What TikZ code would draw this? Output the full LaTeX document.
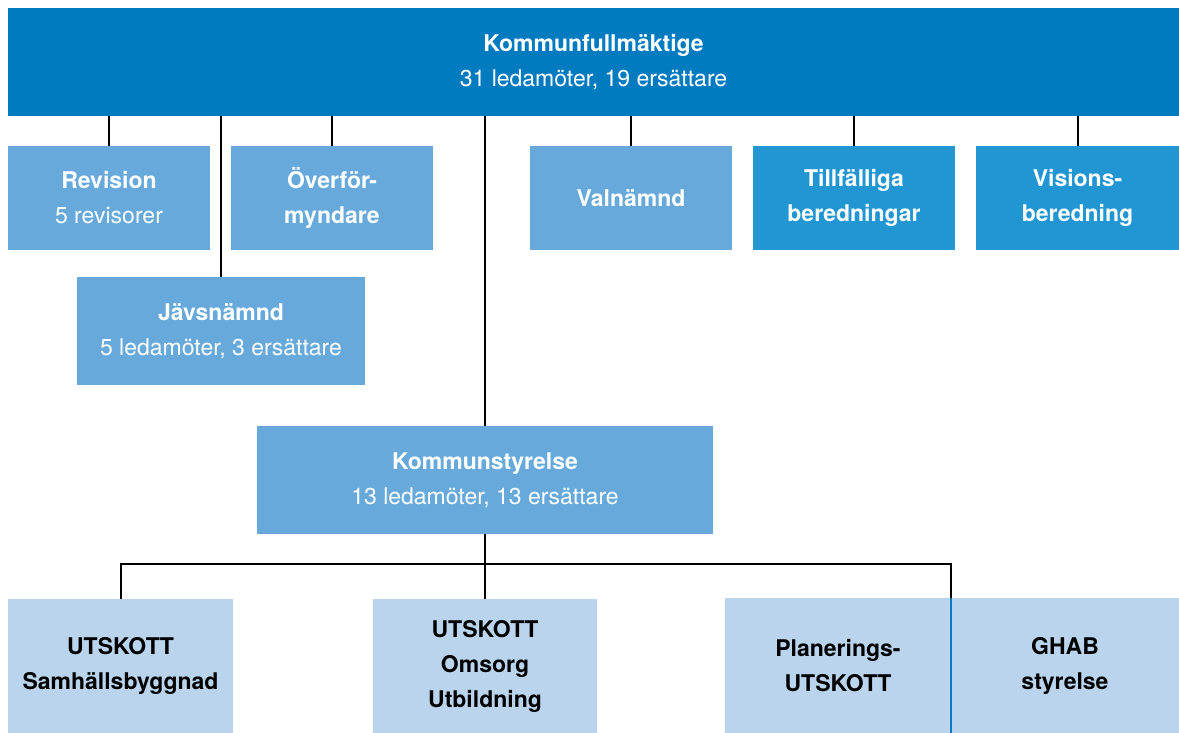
\documentclass[tikz,border=0pt]{standalone}
\usepackage{fontspec}
\setmainfont{TeX Gyre Heros}
\definecolor{kfblue}{RGB}{0,123,191}
\definecolor{midblue}{RGB}{102,169,218}
\definecolor{brblue}{RGB}{33,150,210}
\definecolor{paleblue}{RGB}{185,212,236}
\tikzset{
  box/.style={inner sep=0pt, outer sep=0pt, align=center, font=\fontsize{23}{35}\selectfont},
  kfbox/.style={box, fill=kfblue, text=white},
  midbox/.style={box, fill=midblue, text=white},
  brbox/.style={box, fill=brblue, text=white},
  palebox/.style={box, fill=paleblue, text=black},
  conn/.style={draw=black, line width=2pt},
}
\begin{document}
\begin{tikzpicture}[x=1pt,y=-1pt]
\useasboundingbox (0,0) rectangle (1179,733);
\node[kfbox, minimum width=1171pt, minimum height=108pt] (kf) at (593.5,62) {\textbf{Kommunfullmäktige}\\31 ledamöter, 19 ersättare};
\node[midbox, minimum width=202pt, minimum height=104pt] (rev) at (109,198) {\textbf{Revision}\\5 revisorer};
\node[midbox, minimum width=202pt, minimum height=104pt] (over) at (332,198) {\textbf{Överför-}\\\textbf{myndare}};
\node[midbox, minimum width=288pt, minimum height=108pt] (jav) at (221,331) {\textbf{Jävsnämnd}\\5 ledamöter, 3 ersättare};
\node[midbox, minimum width=202pt, minimum height=104pt] (val) at (631,198) {\textbf{Valnämnd}};
\node[brbox, minimum width=202pt, minimum height=104pt] (till) at (854,198) {\textbf{Tillfälliga}\\\textbf{beredningar}};
\node[brbox, minimum width=203pt, minimum height=104pt] (vis) at (1077.5,198) {\textbf{Visions-}\\\textbf{beredning}};
\node[midbox, minimum width=456pt, minimum height=108pt] (ks) at (485,480) {\textbf{Kommunstyrelse}\\13 ledamöter, 13 ersättare};
\node[palebox, minimum width=225pt, minimum height=134pt] (sam) at (120.5,666) {\textbf{UTSKOTT}\\\textbf{Samhällsbyggnad}};
\node[palebox, minimum width=224pt, minimum height=134pt] (oms) at (485,666) {\textbf{UTSKOTT}\\\textbf{Omsorg}\\\textbf{Utbildning}};
\node[palebox, minimum width=226pt, minimum height=135pt] (plan) at (838,665.5) {\textbf{Planerings-}\\\textbf{UTSKOTT}};
\node[palebox, minimum width=228pt, minimum height=135pt] (ghab) at (1065,665.5) {\textbf{GHAB}\\\textbf{styrelse}};
\draw[kfblue, line width=2pt] (plan.north east) -- (plan.south east);
\draw[conn] (kf.south -| rev.north) -- (rev.north);
\draw[conn] (kf.south -| over.north) -- (over.north);
\draw[conn] (kf.south -| jav.north) -- (jav.north);
\draw[conn] (kf.south -| val.north) -- (val.north);
\draw[conn] (kf.south -| till.north) -- (till.north);
\draw[conn] (kf.south -| vis.north) -- (vis.north);
\draw[conn] (kf.south -| ks.north) -- (ks.north);
\coordinate (bar) at (485,564);
\draw[conn] (ks.south) -- (oms.north);
\draw[conn] (sam.north) -- (bar -| sam.north) -- (bar -| plan.north east) -- (plan.north east);
\end{tikzpicture}
\end{document}
